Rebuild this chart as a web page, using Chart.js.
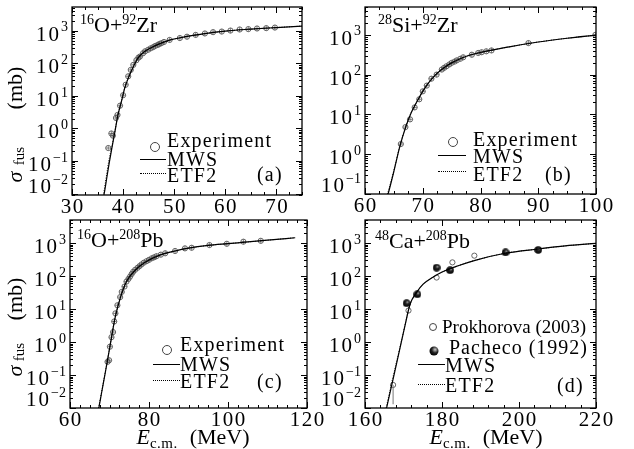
<!DOCTYPE html>
<html lang="en">
<head>
<meta charset="UTF-8">
<title>Fusion cross sections</title>
<script src="https://cdn.jsdelivr.net/npm/chart.js@4"></script>
<style>
  body { margin: 0; background: #fff; }
  #wrap { position: relative; width: 634px; height: 449px; overflow: hidden;
          font-family: "Liberation Serif", serif; color: #000; }
  canvas { position: absolute; left: 0; top: 0; }
  .t { position: absolute; white-space: nowrap; line-height: 1; }
  .title { font-size: 22px; }
  .sp { font-size: 14px; position: relative; top: -8.5px; }
  .sb { font-size: 15px; position: relative; top: 5px; }
  .lg { font-size: 20px; letter-spacing: 1.2px; }
  .oc { position: absolute; width: 10px; height: 10px; box-sizing: border-box;
        border: 1px solid #444; border-radius: 50%; transform: translate(-50%, -50%); }
  .ball { position: absolute; width: 9px; height: 9px; border-radius: 50%; transform: translate(-50%, -50%);
          background: radial-gradient(circle at 62% 35%, #ccc 0, #222 40%, #000 75%); }
  .ln { position: absolute; height: 0; border-top: 1.3px solid #000; }
  .dl { position: absolute; height: 0; border-top: 1.2px dotted #000; }
  .r { transform: translate(-50%, -50%) rotate(-90deg); }
  .xt { font-size: 22px; transform: translate(-50%, -50%); }
</style>
</head>
<body>
<div id="wrap">
  <canvas id="cA" width="634" height="449"></canvas>
  <canvas id="cB" width="634" height="449"></canvas>
  <canvas id="cC" width="634" height="449"></canvas>
  <canvas id="cD" width="634" height="449"></canvas>

  <!-- panel titles -->
  <div class="t title" style="left:80px;top:14px"><span class="sp">16</span>O+<span class="sp">92</span>Zr</div>
  <div class="t title" style="left:378px;top:14px"><span class="sp">28</span>Si+<span class="sp">92</span>Zr</div>
  <div class="t title" style="left:77px;top:229px"><span class="sp">16</span>O+<span class="sp">208</span>Pb</div>
  <div class="t title" style="left:375px;top:230px"><span class="sp">48</span>Ca+<span class="sp">208</span>Pb</div>

  <!-- legend (a) -->
  <div class="oc" style="left:155px;top:147px"></div>
  <div class="t lg" style="left:167px;top:130px">Experiment</div>
  <div class="ln" style="left:140px;top:159px;width:26px"></div>
  <div class="t lg" style="left:167px;top:149px">MWS</div>
  <div class="dl" style="left:140px;top:173px;width:26px"></div>
  <div class="t lg" style="left:167px;top:165px">ETF2</div>
  <div class="t lg" style="left:257px;top:164px">(a)</div>

  <!-- legend (b) -->
  <div class="oc" style="left:453px;top:142px"></div>
  <div class="t lg" style="left:473px;top:129px">Experiment</div>
  <div class="ln" style="left:438px;top:155px;width:28px"></div>
  <div class="t lg" style="left:473px;top:146px">MWS</div>
  <div class="dl" style="left:438px;top:171px;width:28px"></div>
  <div class="t lg" style="left:473px;top:164px">ETF2</div>
  <div class="t lg" style="left:545px;top:164px">(b)</div>

  <!-- legend (c) -->
  <div class="oc" style="left:167px;top:350px"></div>
  <div class="t lg" style="left:180px;top:334px">Experiment</div>
  <div class="ln" style="left:153px;top:364px;width:27px"></div>
  <div class="t lg" style="left:180px;top:354px">MWS</div>
  <div class="dl" style="left:153px;top:380px;width:27px"></div>
  <div class="t lg" style="left:180px;top:371px">ETF2</div>
  <div class="t lg" style="left:257px;top:371px">(c)</div>

  <!-- legend (d) -->
  <div class="oc" style="left:433px;top:327px;width:8px;height:8px"></div>
  <div class="t lg" style="left:442px;top:317px;font-size:19px;letter-spacing:0">Prokhorova (2003)</div>
  <div class="ball" style="left:434px;top:351px"></div>
  <div class="t lg" style="left:449px;top:337px;letter-spacing:1px">Pacheco (1992)</div>
  <div class="ln" style="left:418px;top:364px;width:27px"></div>
  <div class="t lg" style="left:445px;top:355px">MWS</div>
  <div class="dl" style="left:418px;top:384px;width:27px"></div>
  <div class="t lg" style="left:445px;top:375px">ETF2</div>
  <div class="t lg" style="left:557px;top:375px">(d)</div>

  <!-- y axis titles: sigma_fus (mb), pieces placed separately -->
  <div class="t r" style="left:15px;top:88px;font-size:22px">(mb)</div>
  <div class="t r" style="left:19px;top:156px;font-size:15px">fus</div>
  <div class="t r" style="left:15px;top:177px;font-size:22px"><i>σ</i></div>
  <div class="t r" style="left:15px;top:299px;font-size:22px">(mb)</div>
  <div class="t r" style="left:19px;top:352px;font-size:15px">fus</div>
  <div class="t r" style="left:15px;top:371px;font-size:22px"><i>σ</i></div>

  <!-- x axis titles -->
  <div class="t xt" style="left:193px;top:437px"><i>E</i><span class="sb" style="top:4px;letter-spacing:0.5px">c.m.</span><span style="margin-left:12px">(MeV)</span></div>
  <div class="t xt" style="left:486px;top:437px"><i>E</i><span class="sb" style="top:4px;letter-spacing:0.5px">c.m.</span><span style="margin-left:12px">(MeV)</span></div>
</div>

<script>
// ---------- data (E in MeV, sigma in mb) ----------

// (a) 16O + 92Zr
const expA_E   = [37.1, 37.7, 38.0, 38.6, 38.9, 39.4, 40.0, 40.5, 41.0, 41.5, 42.0, 42.6, 43.0, 43.3, 43.9, 44.3, 44.9, 45.4, 45.9, 46.3, 46.8, 47.1, 47.5, 48.0, 49.1, 51.1, 52.5, 54.2, 56.0, 57.6, 59.3, 61.0, 62.8, 64.5, 66.2, 68.0, 69.7];
const expA_sig = [0.25, 0.7, 0.6, 2.1, 2.6, 5.0, 10.5, 22, 40, 63, 90, 125, 150, 162, 205, 235, 262, 290, 316, 345, 370, 395, 418, 455, 525, 600, 660, 750, 830, 910, 950, 1020, 1100, 1130, 1180, 1210, 1260];
const mwsA_E   = [36.0, 36.3, 36.8, 37.3, 37.8, 38.4, 39.0, 39.7, 40.3, 41.0, 42.0, 42.9, 44.2, 46.2, 48.8, 52, 56, 60, 65, 70, 75];
const mwsA_sig = [0.006, 0.01, 0.03, 0.09, 0.25, 0.8, 2.6, 7, 17, 35, 79, 145, 230, 345, 500, 650, 820, 980, 1130, 1260, 1400];
const etfA_E   = [35.9, 36.2, 36.7, 37.2, 37.8, 38.4, 39.0, 39.7, 40.3, 41.0, 42.0, 42.9, 44.2, 46.2, 48.8, 52, 56, 60, 65, 70, 75];
const etfA_sig = [0.006, 0.01, 0.032, 0.1, 0.28, 0.85, 2.7, 7.2, 17.5, 35, 79, 145, 230, 345, 500, 650, 820, 980, 1130, 1260, 1400];

// (b) 28Si + 92Zr
const expB_E   = [66.2, 67.0, 67.8, 68.6, 69.4, 70.0, 70.7, 71.5, 72.4, 73.3, 73.7, 74.1, 74.6, 75.0, 75.5, 75.9, 76.5, 77.0, 78.5, 79.6, 80.2, 81.0, 81.9, 88.3, 99.9];
const expB_sig = [1.8, 4.8, 7.5, 15, 24, 38, 53, 79, 100, 134, 148, 162, 180, 197, 212, 228, 250, 272, 316, 350, 365, 385, 405, 620, 1000];
const mwsB_E   = [63.5, 64.0, 65, 66, 67, 68, 69, 70, 71, 72, 73, 74, 75, 77, 80, 85, 90, 95, 100];
const mwsB_sig = [0.057, 0.1, 0.37, 1.5, 4.6, 11, 21, 38, 62, 92, 125, 160, 197, 270, 360, 500, 660, 820, 980];
const etfB_E   = [63.4, 63.9, 65, 66, 67, 68, 69, 70, 71, 72, 73, 74, 75, 77, 80, 85, 90, 95, 100];
const etfB_sig = [0.057, 0.1, 0.39, 1.55, 4.7, 11.2, 21, 38, 62, 92, 125, 160, 197, 270, 360, 500, 660, 820, 980];

// (c) 16O + 208Pb
const expC_E   = [69.5, 69.9, 70.1, 70.5, 70.9, 71.2, 71.5, 72.0, 72.7, 73.1, 73.8, 74.3, 74.8, 75.2, 75.6, 76.0, 76.5, 77.1, 77.6, 78.1, 78.7, 79.4, 80.0, 80.7, 81.3, 81.9, 83.0, 84.1, 86.6, 89.1, 90.8, 95.3, 99.7, 103.9, 108.3];
const expC_sig = [0.25, 0.28, 0.72, 1.4, 2.0, 4.2, 7.4, 13, 23, 33, 48, 68, 82, 96, 115, 135, 155, 178, 200, 225, 255, 283, 310, 345, 370, 400, 445, 490, 575, 690, 720, 870, 950, 1100, 1170];
const mwsC_E   = [66.8, 67.3, 68, 69, 70.1, 71.4, 72.7, 74.3, 76.5, 79, 82.4, 86.6, 90, 95, 100, 105, 110, 117];
const mwsC_sig = [0.005, 0.01, 0.029, 0.13, 0.72, 5.3, 21, 68, 150, 260, 415, 575, 700, 850, 960, 1080, 1220, 1450];
const etfC_E   = [66.7, 67.2, 68, 69, 70.1, 71.4, 72.7, 74.3, 76.5, 79, 82.4, 86.6, 90, 95, 100, 105, 110, 117];
const etfC_sig = [0.005, 0.01, 0.031, 0.14, 0.75, 5.4, 21, 68, 150, 260, 415, 575, 700, 850, 960, 1080, 1220, 1450];

// (d) 48Ca + 208Pb
const prokE     = [167.3, 171.3, 178.6, 182.7, 188.4, 196.5];
const prokSig   = [0.05, 9, 90, 260, 415, 520];
const prokErrLo = [0.013, null, null, null, null, null];
const pachE     = [170.8, 173.6, 178.6, 182.1, 196.5, 205.0];
const pachSig   = [15, 28, 180, 150, 520, 620];
const mwsD_E    = [165.2, 165.6, 167.4, 169.1, 170.4, 171.7, 173.4, 175.1, 177.3, 179.9, 184.2, 188.6, 196.4, 205, 212, 220];
const mwsD_sig  = [0.006, 0.01, 0.085, 0.66, 3.2, 14, 32, 57, 87, 130, 205, 300, 490, 660, 820, 980];
const etfD_E    = [165.1, 165.5, 167.3, 169.1, 170.4, 171.7, 173.4, 175.1, 177.3, 179.9, 184.2, 188.6, 196.4, 205, 212, 220];
const etfD_sig  = [0.006, 0.01, 0.09, 0.7, 3.3, 14, 32, 57, 87, 130, 205, 300, 490, 660, 820, 980];

// tick labels
const xTicksA = [30, 40, 50, 60, 70];
const xTicksB = [60, 70, 80, 90, 100];
const xTicksC = [60, 80, 100, 120];
const xTicksD = [160, 180, 200, 220];
const yDecadesA = [-2, -1, 0, 1, 2, 3];
const yDecadesB = [-1, 0, 1, 2, 3];
const yDecadesC = [-2, -1, 0, 1, 2, 3];
const yDecadesD = [-2, -1, 0, 1, 2, 3];

// ---------- helpers ----------
const pts = (E, S) => E.map((e, i) => ({ x: e, y: S[i] }));

function lineSet(E, S, dotted) {
  return {
    type: 'line', data: pts(E, S),
    borderColor: '#000', borderWidth: dotted ? 1 : 1.2,
    borderDash: dotted ? [1, 1.5] : [],
    pointRadius: 0, cubicInterpolationMode: 'monotone', fill: false
  };
}

function expSets(E, S) {
  const base = { type: 'line', showLine: false, data: pts(E, S), pointRadius: 2.6,
                 pointBorderColor: '#555', pointBackgroundColor: 'rgba(0,0,0,0)', pointBorderWidth: 0.9 };
  return [Object.assign({}, base, { pointStyle: 'circle' }),
          Object.assign({}, base, { pointStyle: 'cross', pointBorderWidth: 0.7 })];
}

// shaded ball marker for Pacheco
const ball = document.createElement('canvas');
ball.width = ball.height = 8;
(function () {
  const b = ball.getContext('2d');
  const g = b.createRadialGradient(5, 2.8, 0.2, 4, 4, 4);
  g.addColorStop(0, '#bbb');
  g.addColorStop(0.35, '#222');
  g.addColorStop(1, '#000');
  b.fillStyle = g;
  b.beginPath(); b.arc(4, 4, 3.8, 0, Math.PI * 2); b.fill();
})();

// frame, inward ticks, tick labels, error bars
const axesDeco = {
  id: 'axesDeco',
  afterDraw(chart, args, o) {
    const { ctx, chartArea: a, scales: { x, y } } = chart;
    ctx.save();
    ctx.strokeStyle = '#000';
    ctx.lineWidth = 1;

    // error bars
    (o.errBars || []).forEach(eb => {
      const px = x.getPixelForValue(eb.x);
      ctx.strokeStyle = '#777';
      ctx.beginPath();
      ctx.moveTo(px, y.getPixelForValue(eb.from));
      ctx.lineTo(px, Math.min(a.bottom, y.getPixelForValue(eb.to)));
      ctx.stroke();
    });
    ctx.strokeStyle = '#000';

    // y ticks (major + minor, both sides)
    ctx.beginPath();
    const d0 = Math.floor(Math.log10(y.min)), d1 = Math.ceil(Math.log10(y.max));
    for (let d = d0; d <= d1; d++) {
      for (let k = 1; k <= 9; k++) {
        const v = k * Math.pow(10, d);
        if (v < y.min || v > y.max) continue;
        const py = Math.round(y.getPixelForValue(v)) + 0.5;
        const len = k === 1 ? 6 : 3;
        ctx.moveTo(a.left, py); ctx.lineTo(a.left + len, py);
        ctx.moveTo(a.right, py); ctx.lineTo(a.right - len, py);
      }
    }
    // x ticks (major + minor, top and bottom)
    for (let v = o.xTicks[0] - o.xMinor * 8; v <= x.max + 1e-9; v += o.xMinor) {
      if (v < x.min - 1e-9) continue;
      const px = Math.round(x.getPixelForValue(v)) + 0.5;
      const major = o.xTicks.some(t => Math.abs(t - v) < 1e-6);
      const len = major ? 6 : 3;
      ctx.moveTo(px, a.bottom); ctx.lineTo(px, a.bottom - len);
      ctx.moveTo(px, a.top); ctx.lineTo(px, a.top + len);
    }
    ctx.stroke();

    // frame
    ctx.lineWidth = 1.3;
    ctx.strokeRect(a.left, a.top, a.right - a.left, a.bottom - a.top);

    // y tick labels 10^n
    ctx.fillStyle = '#000';
    ctx.textBaseline = 'alphabetic';
    ctx.textAlign = 'right';
    o.yDecades.forEach(d => {
      const py = y.getPixelForValue(Math.pow(10, d));
      const cy = Math.min(py + 3, a.bottom - 9);
      const base = cy + 7;
      const ex = d < 0 ? '\u2212' + (-d) : String(d);
      ctx.font = '14px "Liberation Serif"';
      ctx.letterSpacing = '0px';
      const ew = ctx.measureText(ex).width;
      const right = a.left - 4;
      ctx.fillText(ex, right, base - 9.4);
      ctx.font = '21px "Liberation Serif"';
      ctx.letterSpacing = '2px';
      ctx.fillText('10', right - ew, base);
    });

    // x tick labels
    ctx.textAlign = 'center';
    ctx.textBaseline = 'middle';
    ctx.font = '21px "Liberation Serif"';
    ctx.letterSpacing = '1.5px';
    o.xTicks.forEach(v => {
      ctx.fillText(String(v), x.getPixelForValue(v) + 0.75, a.bottom + 12.5);
    });
    ctx.restore();
  }
};
Chart.register(axesDeco);

function panel(id, p) {
  return new Chart(document.getElementById(id), {
    type: 'line',
    data: { datasets: p.datasets },
    options: {
      responsive: false,
      animation: false,
      layout: { padding: p.pad, autoPadding: false },
      plugins: {
        legend: { display: false },
        tooltip: { enabled: false },
        axesDeco: { xTicks: p.xTicks, xMinor: p.xMinor, yDecades: p.yDecades, errBars: p.errBars || [] }
      },
      scales: {
        x: { type: 'linear', min: p.xMin, max: p.xMax, display: false },
        y: { type: 'logarithmic', min: p.yMin, max: p.yMax, display: false }
      }
    }
  });
}

// each canvas covers the whole figure; padding places the plot box
panel('cA', {
  pad: { left: 72, right: 332, top: 7, bottom: 254 },
  xMin: 30, xMax: 75, yMin: 0.009, yMax: 5400,
  xTicks: xTicksA, xMinor: 2.5, yDecades: yDecadesA,
  datasets: [lineSet(mwsA_E, mwsA_sig, false), lineSet(etfA_E, etfA_sig, true), ...expSets(expA_E, expA_sig)]
});

panel('cB', {
  pad: { left: 365, right: 38, top: 7, bottom: 255 },
  xMin: 60, xMax: 100, yMin: 0.1, yMax: 5000,
  xTicks: xTicksB, xMinor: 2.5, yDecades: yDecadesB,
  datasets: [lineSet(mwsB_E, mwsB_sig, false), lineSet(etfB_E, etfB_sig, true), ...expSets(expB_E, expB_sig)]
});

panel('cC', {
  pad: { left: 70, right: 327, top: 220, bottom: 41 },
  xMin: 60, xMax: 120, yMin: 0.01, yMax: 5000,
  xTicks: xTicksC, xMinor: 2.5, yDecades: yDecadesC,
  datasets: [lineSet(mwsC_E, mwsC_sig, false), lineSet(etfC_E, etfC_sig, true), ...expSets(expC_E, expC_sig)]
});

panel('cD', {
  pad: { left: 365, right: 38, top: 220, bottom: 41 },
  xMin: 160, xMax: 220, yMin: 0.01, yMax: 5000,
  xTicks: xTicksD, xMinor: 4, yDecades: yDecadesD,
  errBars: prokE.map((e, i) => ({ x: e, from: prokSig[i], to: prokErrLo[i] })).filter(b => b.to !== null),
  datasets: [
    lineSet(mwsD_E, mwsD_sig, false),
    lineSet(etfD_E, etfD_sig, true),
    { type: 'line', showLine: false, data: pts(pachE, pachSig), pointStyle: ball, pointRadius: 4 },
    { type: 'line', showLine: false, data: pts(prokE, prokSig), pointStyle: 'circle', pointRadius: 2.6,
      pointBorderColor: '#555', pointBackgroundColor: '#fff', pointBorderWidth: 0.9 }
  ]
});
</script>
</body>
</html>
